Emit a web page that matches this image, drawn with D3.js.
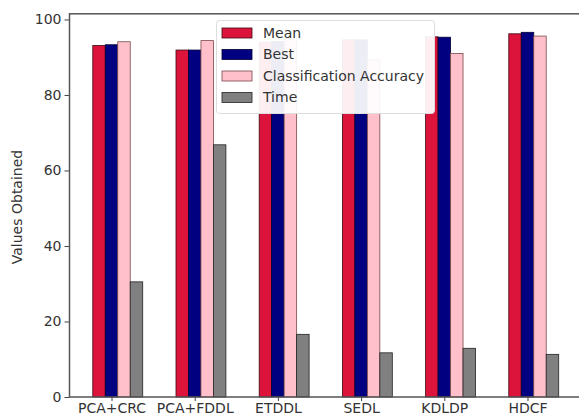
<!DOCTYPE html>
<html>
<head>
<meta charset="utf-8">
<script src="https://cdn.jsdelivr.net/npm/d3@7"></script>
<style>
  html, body { margin: 0; padding: 0; background: #fff; }
  svg { display: block; font-family: "DejaVu Sans", sans-serif; }
</style>
</head>
<body>
<svg id="chart" width="579" height="419"></svg>
<script>
const categories = ["PCA+CRC", "PCA+FDDL", "ETDDL", "SEDL", "KDLDP", "HDCF"];
const seriesNames = ["Mean", "Best", "Classification Accuracy", "Time"];
const meanValues = [93.1, 91.9, 94.0, 94.6, 95.4, 96.2];
const bestValues = [93.3, 91.9, 94.2, 94.6, 95.3, 96.6];
const accuracyValues = [94.1, 94.4, 95.0, 89.3, 91.0, 95.6];
const timeValues = [30.5, 66.8, 16.6, 11.7, 12.9, 11.3];
const yTicks = [0, 20, 40, 60, 80, 100];
const colors = ["#dc143c", "#000080", "#ffc0cb", "#808080"];
const edgeColors = ["#3a0a12", "#000033", "#7a4a4a", "#222222"];

const series = [meanValues, bestValues, accuracyValues, timeValues];
const svg = d3.select("#chart");
const barW = 0.15;
const x = d3.scaleLinear().domain([-0.505, 5.655]).range([69.5, 582]);
const y = d3.scaleLinear().domain([0, 101.5]).range([397, 13.8]);

// bars
series.forEach((vals, k) => {
  svg.append("g").selectAll("rect").data(vals).join("rect")
    .attr("x", (d, i) => x(i + (k - 1) * barW - barW / 2))
    .attr("width", x(barW) - x(0))
    .attr("y", d => y(d))
    .attr("height", d => y(0) - y(d))
    .attr("fill", colors[k])
    .attr("stroke", edgeColors[k])
    .attr("stroke-width", 0.8);
});

// axes
const yAxis = d3.axisLeft(y).tickValues(yTicks).tickSize(5).tickPadding(3);
const gy = svg.append("g").attr("transform", "translate(69.5,0)").call(yAxis);
gy.select(".domain").remove();
gy.selectAll("line").attr("stroke", "#444");
gy.selectAll("text").attr("font-size", 14).attr("fill", "#333").attr("font-family", "DejaVu Sans");

const xAxis = d3.axisBottom(x).tickValues(d3.range(categories.length)).tickFormat(i => categories[i]).tickSize(4).tickPadding(2);
const gx = svg.append("g").attr("transform", "translate(0,397)").call(xAxis);
gx.select(".domain").remove();
gx.selectAll("line").attr("stroke", "#444");
gx.selectAll("text").attr("font-size", 14).attr("fill", "#333").attr("font-family", "DejaVu Sans");

// spines
svg.append("rect").attr("x", 69.5).attr("y", 13.8).attr("width", 582 - 69.5).attr("height", 397 - 13.8)
  .attr("fill", "none").attr("stroke", "#555").attr("stroke-width", 1.5);

// y label
svg.append("text").attr("transform", "translate(22,207) rotate(-90)")
  .attr("text-anchor", "middle").attr("font-size", 14).attr("fill", "#333")
  .text("Values Obtained");

// legend
const lg = svg.append("g");
lg.append("rect").attr("x", 216.5).attr("y", 20.5).attr("width", 218).attr("height", 93).attr("rx", 3)
  .attr("fill", "#fff").attr("fill-opacity", 0.93).attr("stroke", "#ddd").attr("stroke-width", 1);
seriesNames.forEach((name, k) => {
  const cy = 33 + k * 21.5;
  lg.append("rect").attr("x", 222).attr("y", cy - 5).attr("width", 30).attr("height", 10)
    .attr("fill", colors[k]).attr("stroke", edgeColors[k]).attr("stroke-width", 0.8);
  lg.append("text").attr("x", 263).attr("y", cy).attr("dy", "0.35em")
    .attr("font-size", 14).attr("fill", "#333").text(name);
});
</script>
</body>
</html>
